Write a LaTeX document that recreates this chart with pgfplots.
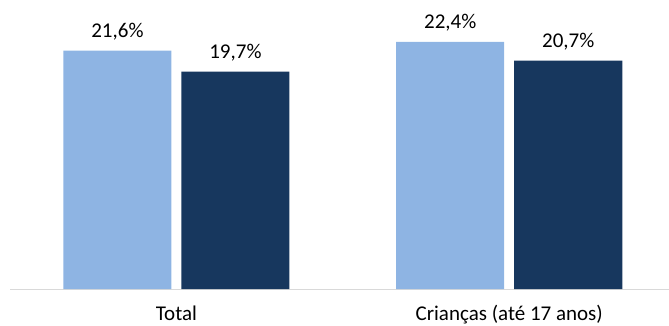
\documentclass[border=0pt]{standalone}
\usepackage{pgfplots}
\pgfplotsset{compat=1.18}
\usepackage{fontspec}
\setmainfont{Carlito}
\definecolor{lightb}{HTML}{8EB4E3}
\definecolor{darkb}{HTML}{17375E}
\definecolor{axgrey}{HTML}{D9D9D9}
\begin{document}
\begin{tikzpicture}
\begin{axis}[
  name=ax,
  scale only axis,
  width=659pt, height=289pt,
  ymin=0, ymax=26.2,
  xmin=-0.5, xmax=1.48,
  ybar=10pt, bar width=108pt,
  axis x line*=bottom,
  axis y line=none,
  x axis line style={axgrey, line width=1pt, -},
  xtick=data,
  xticklabels={Total, Crianças (até 17 anos)},
  xtick style={draw=none},
  x tick label style={font=\fontsize{21}{24}\selectfont, anchor=base, yshift=-27pt},
  point meta=explicit symbolic,
  nodes near coords,
  nodes near coords style={font=\fontsize{21}{24}\selectfont, black, anchor=base, yshift=13pt},
  clip=false,
]
\addplot[fill=lightb, draw=none] coordinates {(0,21.6) [21,6\%] (1,22.4) [22,4\%]};
\addplot[fill=darkb, draw=none] coordinates {(0,19.7) [19,7\%] (1,20.7) [20,7\%]};
\end{axis}
\pgfresetboundingbox
\path ([shift={(-10pt,-36pt)}]ax.south west) rectangle (ax.north east);
\end{tikzpicture}
\end{document}
